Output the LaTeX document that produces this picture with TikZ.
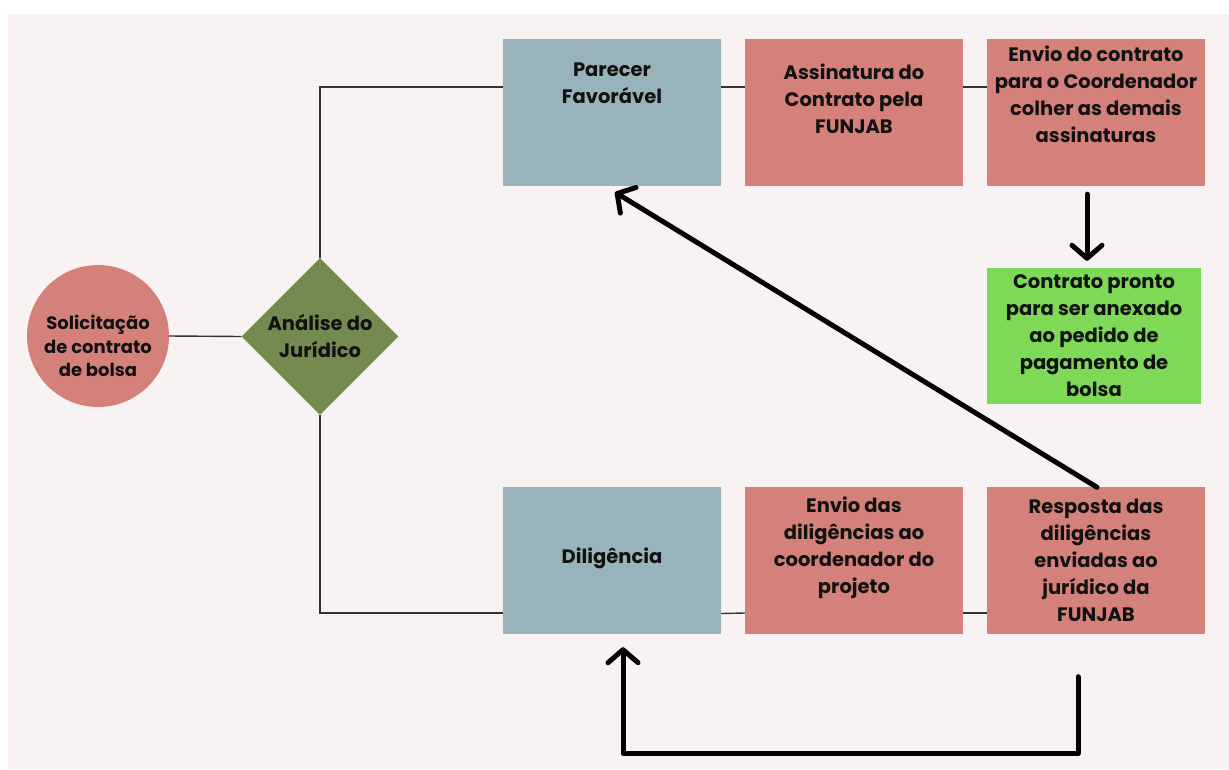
\documentclass[tikz,border=0pt]{standalone}
\usepackage{fontspec}
\setmainfont{Poppins}
\usetikzlibrary{arrows.meta,shapes.geometric,calc}
\definecolor{bgc}{RGB}{248,243,242}
\definecolor{pinkc}{RGB}{212,129,123}
\definecolor{bluec}{RGB}{152,180,186}
\definecolor{greenc}{RGB}{126,217,87}
\definecolor{olivec}{RGB}{115,139,80}
\definecolor{linec}{RGB}{51,51,51}
\tikzset{
  txt/.style={font=\fontsize{19.5}{27}\selectfont\bfseries, text=black!93, align=center, inner sep=0pt},
  smalltxt/.style={txt, font=\fontsize{18}{23.5}\selectfont\bfseries},
  boxb/.style={fill=bluec, minimum width=218pt, minimum height=147pt, inner sep=0pt},
  boxp/.style={fill=pinkc, minimum width=218pt, minimum height=147pt, inner sep=0pt},
  boxg/.style={fill=greenc, minimum width=214pt, minimum height=136pt, inner sep=0pt},
  circp/.style={circle, fill=pinkc, minimum size=142pt, inner sep=0pt},
  diam/.style={diamond, fill=olivec, minimum width=157pt, minimum height=157pt, aspect=1, inner sep=0pt},
  thin/.style={draw=linec, line width=1.4pt},
  bigarrow/.style={draw=black, line width=5pt, line cap=round, line join=round, -{Straight Barb[length=13pt,width=30pt,line width=5pt,round]}},
}
\begin{document}
\begin{tikzpicture}[x=1pt,y=-1pt]
\useasboundingbox (0,0) rectangle (1229,769);
\fill[white] (0,0) rectangle (1229,769);
\fill[bgc] (8,14) rectangle (1229,769);

% shapes
\node[circp] (sol) at (98,336) {};
\node[diam] (jur) at (320,336.5) {};
\node[boxb] (par) at (612,112.5) {};
\node[boxp] (ass) at (854,112.5) {};
\node[boxp] (env) at (1096,112.5) {};
\node[boxg] (grn) at (1094,336) {};
\node[boxb] (dil) at (612,560.5) {};
\node[boxp] (end) at (854,560) {};
\node[boxp] (res) at (1096,560) {};

% texts
\node[smalltxt] (solt) at (98,346) {Solicitação\\de contrato\\de bolsa};
\node[txt] (jurt) at (320,336) {Análise do\\Jurídico};
\node[txt] (part) at (612,83.5) {Parecer\\Favorável};
\node[txt] (asst) at (854,99) {Assinatura do\\Contrato pela\\FUNJAB};
\node[txt] (envt) at (1096,94.5) {Envio do contrato\\para o Coordenador\\colher as demais\\assinaturas};
\node[txt] (grnt) at (1094,336) {Contrato pronto\\para ser anexado\\ao pedido de\\pagamento de\\bolsa};
\node[txt] (dilt) at (612,558) {Diligência};
\node[txt] (endt) at (854,547.5) {Envio das\\diligências ao\\coordenador do\\projeto};
\node[txt] (rest) at (1096,560.5) {Resposta das\\diligências\\enviadas ao\\jurídico da\\FUNJAB};

% thin connectors
\draw[thin] (sol.east) -- (jur.west);
\draw[thin] (jur.north) |- ([yshift=25.5pt]par.west);
\draw[thin] (jur.south) |- ([yshift=-52.5pt]dil.west);
\draw[thin] ([yshift=25.5pt]par.east) -- ([yshift=25.5pt]ass.west);
\draw[thin] ([yshift=25.5pt]ass.east) -- ([yshift=25.5pt]env.west);
\draw[thin] ([yshift=-53pt]dil.east) -- ([yshift=-53pt]end.west);
\draw[thin] ([yshift=-53pt]end.east) -- ([yshift=-53pt]res.west);

% thick arrows
\draw[bigarrow] ([xshift=-9pt,yshift=-8pt]env.south) -- ([xshift=-7pt,yshift=7pt]grn.north);
\draw[bigarrow] ([xshift=1pt,yshift=-1pt]res.north) -- ([xshift=3pt,yshift=-6pt]par.south);
\coordinate (bstart) at ([xshift=-18pt,yshift=-43pt]res.south);
\coordinate (bend) at ([xshift=11pt,yshift=-13pt]dil.south);
\draw[bigarrow] (bstart) -- ++(0,77) -| (bend);
\end{tikzpicture}
\end{document}
